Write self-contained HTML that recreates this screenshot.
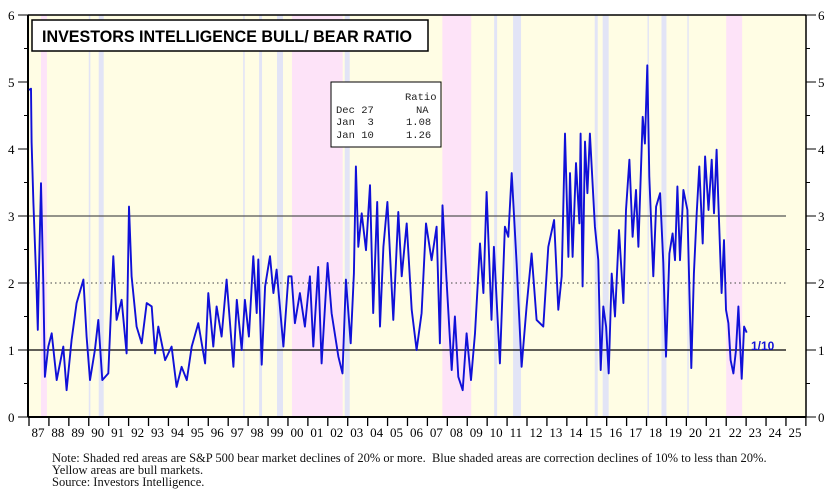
<!DOCTYPE html>
<html><head><meta charset="utf-8"><style>
body{margin:0;background:#fff;width:836px;height:497px;overflow:hidden}
svg{display:block}
.note{position:absolute;left:52px;font:12.5px "Liberation Serif",serif;color:#111;line-height:12px}
</style></head><body>
<svg id="chart" width="836" height="497">
<g id="shades"></g>
<g id="grid"></g>
<g id="axes"></g>
<path id="series" fill="none" stroke="#1010d8" stroke-width="1.9" stroke-linejoin="round"/>
<rect x="32" y="20" width="396" height="31" fill="#fff" stroke="#000" stroke-width="1.5"/>
<text x="42" y="42" font-family="Liberation Sans, sans-serif" font-weight="bold" font-size="16.5" textLength="370" lengthAdjust="spacingAndGlyphs">INVESTORS INTELLIGENCE BULL/ BEAR RATIO</text>
<g font-family="Liberation Mono, monospace" font-size="10.5" fill="#222">
<rect x="331" y="82" width="110" height="65" fill="#fff" stroke="#000" stroke-width="1"/>
<text x="405" y="100">Ratio</text>
<text x="336" y="113">Dec 27</text><text x="416" y="113">NA</text>
<text x="336" y="125" xml:space="preserve">Jan  3</text><text x="406" y="125">1.08</text>
<text x="336" y="138">Jan 10</text><text x="406" y="138">1.26</text>
</g>
<text x="751" y="350" font-family="Liberation Sans, sans-serif" font-weight="bold" font-size="12" fill="#1010d8">1/10</text>
</svg>
<div class="note" style="top:452px">Note: Shaded red areas are S&amp;P 500 bear market declines of 20% or more.&nbsp; Blue shaded areas are correction declines of 10% to less than 20%.<br>Yellow areas are bull markets.<br>Source: Investors Intelligence.</div>
<script>
const years=[1987,1987.1,1987.13,1987.22,1987.38,1987.44,1987.5,1987.6,1987.72,1987.8,1987.97,1988.14,1988.39,1988.72,1988.89,1989.14,1989.39,1989.73,1989.89,1990.06,1990.31,1990.48,1990.68,1990.98,1991.23,1991.4,1991.65,1991.9,1992.02,1992.15,1992.4,1992.66,1992.91,1993.16,1993.33,1993.49,1993.83,1994.16,1994.41,1994.66,1994.92,1995.17,1995.5,1995.84,1996.0,1996.25,1996.42,1996.67,1996.92,1997.26,1997.43,1997.68,1997.84,1998.04,1998.26,1998.43,1998.51,1998.68,1998.85,1999.1,1999.27,1999.43,1999.77,2000.02,2000.18,2000.35,2000.6,2000.85,2001.1,2001.27,2001.52,2001.69,2001.99,2002.19,2002.53,2002.74,2002.91,2003.15,2003.31,2003.41,2003.53,2003.7,2003.92,2004.12,2004.28,2004.48,2004.62,2004.79,2004.99,2005.29,2005.54,2005.71,2005.96,2006.21,2006.46,2006.71,2006.93,2007.21,2007.46,2007.63,2007.76,2007.96,2008.22,2008.38,2008.55,2008.77,2008.97,2009.19,2009.39,2009.64,2009.81,2009.97,2010.22,2010.34,2010.64,2010.89,2011.06,2011.23,2011.48,2011.73,2011.98,2012.23,2012.48,2012.82,2013.07,2013.36,2013.57,2013.74,2013.91,2014.08,2014.16,2014.29,2014.46,2014.63,2014.69,2014.79,2014.91,2015.03,2015.16,2015.41,2015.58,2015.7,2015.83,2015.97,2016.1,2016.25,2016.42,2016.62,2016.84,2016.97,2017.14,2017.3,2017.47,2017.59,2017.81,2017.92,2018.04,2018.14,2018.34,2018.48,2018.68,2018.84,2018.98,2019.15,2019.31,2019.43,2019.55,2019.68,2019.85,2020.05,2020.1,2020.25,2020.38,2020.52,2020.65,2020.82,2020.94,2021.11,2021.27,2021.39,2021.52,2021.61,2021.77,2021.89,2021.99,2022.11,2022.22,2022.36,2022.49,2022.61,2022.78,2022.9,2023.03];
const ratios=[4.88,4.9,4.1,3.2,1.9,1.3,2.2,3.49,2.0,0.6,1.05,1.25,0.55,1.05,0.4,1.15,1.7,2.05,1.2,0.55,1.0,1.45,0.55,0.65,2.4,1.45,1.75,0.95,3.14,2.1,1.35,1.1,1.7,1.65,0.95,1.35,0.85,1.05,0.45,0.75,0.55,1.05,1.4,0.8,1.85,1.05,1.65,1.2,2.05,0.75,1.75,1.0,1.75,1.2,2.4,1.55,2.35,0.78,1.95,2.4,1.85,2.2,1.05,2.1,2.1,1.4,1.85,1.35,2.1,1.05,2.24,0.8,2.3,1.55,0.9,0.65,2.05,1.1,2.14,3.74,2.54,3.04,2.49,3.46,1.55,3.21,1.35,2.54,3.21,1.45,3.06,2.1,2.89,1.6,1.0,1.55,2.89,2.34,2.84,1.1,3.16,2.05,0.7,1.5,0.6,0.4,1.25,0.55,1.25,2.59,1.85,3.36,1.45,2.54,0.8,2.84,2.69,3.64,2.3,0.75,1.65,2.44,1.45,1.35,2.54,2.94,1.6,2.1,4.23,2.39,3.64,2.39,3.79,2.89,4.23,1.95,4.11,3.34,4.23,2.84,2.34,0.7,1.65,1.35,0.65,2.14,1.5,2.79,1.7,3.09,3.84,2.69,3.39,2.54,4.48,4.08,5.25,3.59,2.1,3.14,3.34,2.3,0.9,2.44,2.74,2.34,3.44,2.34,3.39,3.09,2.49,0.73,2.14,3.04,3.74,2.59,3.89,3.09,3.84,3.04,3.99,3.19,1.85,2.64,1.6,1.4,0.85,0.65,1.0,1.65,0.57,1.35,1.26];
const bearStart=[1987.6,2000.2,2007.75,2022.0];
const bearEnd=[1987.9,2002.75,2009.2,2022.8];
const corrStart=[1990.0,1990.5,1997.75,1998.55,1999.45,2002.85,2010.35,2011.3,2015.4,2015.8,2018.05,2018.75,2020.05];
const corrEnd=[1990.08,1990.75,1997.83,1998.7,1999.75,2003.1,2010.5,2011.7,2015.55,2016.1,2018.12,2019.0,2020.12];
const yTicks=[0,1,2,3,4,5,6];
const yearLabels=["87","88","89","90","91","92","93","94","95","96","97","98","99","00","01","02","03","04","05","06","07","08","09","10","11","12","13","14","15","16","17","18","19","20","21","22","23","24","25"];

const X0=29,YW=19.92,L=28,R=806,T=15,B=417;
const xs=y=>X0+(y-1987)*YW;
const ys=v=>B-v*67;
const NS="http://www.w3.org/2000/svg";
function mk(tag,parent,attrs){const e=document.createElementNS(NS,tag);for(const k in attrs)e.setAttribute(k,attrs[k]);parent.appendChild(e);return e;}
const sh=document.getElementById('shades'),gr=document.getElementById('grid'),ax=document.getElementById('axes');
let e=mk('rect',sh,{x:L,y:T,width:R-L,height:B-T,fill:'#fffde4'});


bearStart.forEach((s,i)=>{const r=mk('rect',sh,{x:xs(s),y:T,width:xs(bearEnd[i])-xs(s),height:B-T,fill:'#fde3f8'});

});
corrStart.forEach((s,i)=>{const r=mk('rect',sh,{x:xs(s),y:T,width:xs(corrEnd[i])-xs(s),height:B-T,fill:'#e2e4f6'});

});
[[3,'#555','none'],[1,'#000','none'],[2,'#666','1.5,3']].forEach(g=>{const l=mk('line',gr,{x1:L,x2:786,y1:ys(g[0]),y2:ys(g[0]),stroke:g[1],'stroke-width':1.2,'stroke-dasharray':g[2]});

});
mk('line',ax,{x1:L,x2:L,y1:T,y2:B,stroke:'#000','stroke-width':2});
mk('line',ax,{x1:R,x2:R,y1:T,y2:B,stroke:'#000','stroke-width':1.5});
mk('line',ax,{x1:L,x2:R,y1:T,y2:T,stroke:'#000','stroke-width':1.5});
mk('line',ax,{x1:L,x2:R,y1:B,y2:B,stroke:'#000','stroke-width':2});
for(let v=0;v<=6;v+=0.5){const major=v%1===0;
mk('line',ax,{x1:L-(major?10:4),x2:L,y1:ys(v),y2:ys(v),stroke:'#000','stroke-width':1});
mk('line',ax,{x1:R,x2:R+(major?10:4),y1:ys(v),y2:ys(v),stroke:'#000','stroke-width':1});}
yTicks.forEach(v=>{let t=mk('text',ax,{x:8,y:ys(v)+5,'font-family':'Liberation Serif, serif','font-size':13});t.textContent=v;


t=mk('text',ax,{x:818,y:ys(v)+5,'font-family':'Liberation Serif, serif','font-size':13});t.textContent=v;

});
yearLabels.forEach((lab,i)=>{const y0=1987+i;
mk('line',ax,{x1:xs(y0),x2:xs(y0),y1:B,y2:B+9,stroke:'#000','stroke-width':1.3});
const t=mk('text',ax,{x:xs(y0)+2.5,y:B+20,'font-family':'Liberation Serif, serif','font-size':13});t.textContent=lab;

});
mk('line',ax,{x1:xs(2026),x2:xs(2026),y1:B,y2:B+9,stroke:'#000','stroke-width':1.3});
document.getElementById('series').setAttribute('d',years.map((y,i)=>(i?'L':'M')+xs(y).toFixed(1)+','+ys(ratios[i]).toFixed(1)).join(''));
</script>
</body></html>
